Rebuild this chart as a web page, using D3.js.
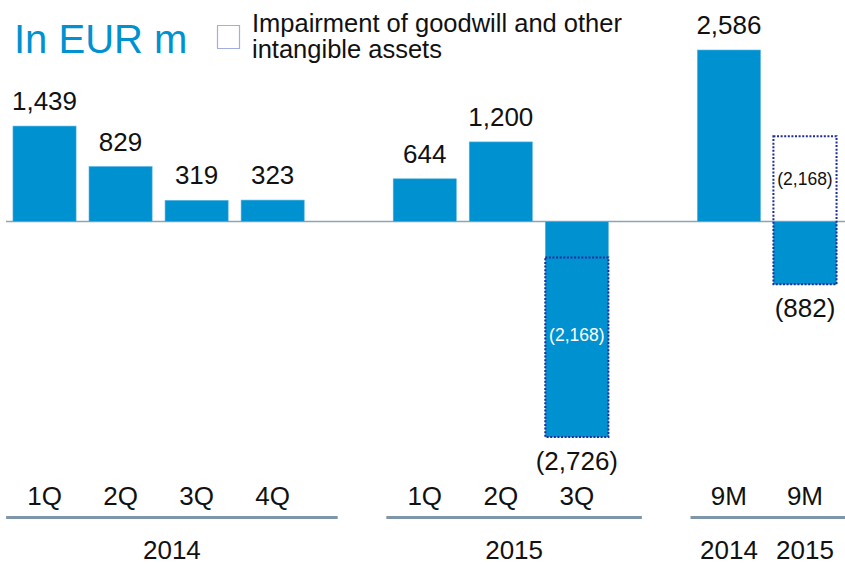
<!DOCTYPE html>
<html><head><meta charset="utf-8">
<script src="https://cdn.jsdelivr.net/npm/d3@7/dist/d3.min.js"></script>
<style>
html,body{margin:0;padding:0;background:#fff;}
svg{display:block;font-family:"Liberation Sans",Arial,Helvetica,sans-serif;}
</style></head>
<body>
<svg id="chart" width="845" height="564"></svg>
<script>
// ---- data ----
const periods   = ["1Q","2Q","3Q","4Q","1Q","2Q","3Q","9M","9M"];
const years     = ["2014","2014","2014","2014","2015","2015","2015","2014","2015"];
const groupIds  = ["Q2014","Q2014","Q2014","Q2014","Q2015","Q2015","Q2015","9M","9M"];
const values    = [1439, 829, 319, 323, 644, 1200, -2726, 2586, -882];
const impairment= [0, 0, 0, 0, 0, 0, -2168, 0, -2168];
const groups    = ["Q2014","Q2015","9M"];
const groupLabels = ["2014","2015",""];
const titleText = "In EUR m";
const legendLines = ["Impairment of goodwill and other","intangible assets"];

// ---- layout ----
const W = 845, H = 564;
const svg = d3.select("#chart");
const barColor = "#0091d0";
const navy = "#1f2c99";

const ids = values.map((d,i)=>groupIds[i]+"-"+periods[i]+"-"+years[i]);
const slots = [...ids.slice(0,4),"_gap1",...ids.slice(4,7),"_gap2",...ids.slice(7)];
const x = d3.scaleBand().domain(slots).range([6.5, 843]).paddingInner(0.17).paddingOuter(0.085);
const bw = x.bandwidth();

const minV = d3.min(values), maxV = d3.max(values);
const restQ3 = values[6]-impairment[6];
const y = d3.scaleLinear().domain([minV, restQ3, 0, maxV]).range([437, 257.5, 221.5, 50]);

const fmt = v => v < 0 ? "(" + d3.format(",")(-v) + ")" : d3.format(",")(v);

const data = values.map((v,i)=>({id:ids[i], v, imp:impairment[i], period:periods[i], year:years[i], group:groupIds[i]}));

// baseline
svg.append("line").attr("x1",6).attr("x2",W).attr("y1",y(0)).attr("y2",y(0))
  .attr("stroke","#8fa3b3").attr("stroke-width",1.5);

// bars
svg.selectAll("rect.bar").data(data).enter().append("rect")
  .attr("class","bar")
  .attr("x",d=>x(d.id)).attr("width",bw)
  .attr("y",d=>Math.min(y(d.v),y(0)))
  .attr("height",d=>Math.abs(y(d.v)-y(0)))
  .attr("fill",barColor).attr("stroke","#5ab4e0").attr("stroke-width",0.6);

// impairment boxes
const impData = data.filter(d=>d.imp!==0);
svg.selectAll("rect.imp").data(impData).enter().append("rect")
  .attr("class","imp")
  .attr("x",d=>x(d.id)).attr("width",bw)
  .attr("y",d=>y(d.v - d.imp))
  .attr("height",d=>y(d.v)-y(d.v - d.imp))
  .attr("fill","none").attr("stroke",navy).attr("stroke-width",2).attr("stroke-dasharray","2 1.6");

svg.selectAll("text.imp").data(impData).enter().append("text")
  .attr("class","imp")
  .attr("x",d=>x(d.id)+bw/2)
  .attr("y",d=>{
    const top = d.v - d.imp;
    const mid = top > 0 ? (y(0)+y(top))/2 : (y(top)+y(d.v))/2 - 12;
    return mid;
  })
  .attr("dy","0.35em")
  .attr("text-anchor","middle").attr("font-size",17.5)
  .attr("fill",d=> (d.v - d.imp) > 0 ? "#111" : "#fff")
  .text(d=>fmt(d.imp));

// value labels
svg.selectAll("text.val").data(data).enter().append("text")
  .attr("class","val")
  .attr("x",d=>x(d.id)+bw/2)
  .attr("y",d=> d.v>=0 ? y(d.v)-16 : y(d.v)+33)
  .attr("text-anchor","middle").attr("font-size",26).attr("fill","#111")
  .text(d=>fmt(d.v));

// category labels
svg.selectAll("text.cat").data(data).enter().append("text")
  .attr("x",d=>x(d.id)+bw/2).attr("y",505)
  .attr("text-anchor","middle").attr("font-size",26).attr("fill","#111")
  .text(d=>d.period);

// group lines and labels
const step = x.step();
groups.forEach((g,gi)=>{
  const members = data.filter(d=>d.group===g);
  const x0 = x(members[0].id) - step*0.09;
  const x1 = Math.min(W, x(members[members.length-1].id) + bw + step*0.44);
  svg.append("line").attr("x1",x0).attr("x2",x1).attr("y1",517.5).attr("y2",517.5)
    .attr("stroke","#7f95a8").attr("stroke-width",3);
  if (groupLabels[gi]) {
    svg.append("text").attr("x",(x0+x1)/2).attr("y",559)
      .attr("text-anchor","middle").attr("font-size",26).attr("fill","#111").text(groupLabels[gi]);
  } else {
    members.forEach(d=>{
      svg.append("text").attr("x",x(d.id)+bw/2).attr("y",559)
        .attr("text-anchor","middle").attr("font-size",26).attr("fill","#111").text(d.year);
    });
  }
});

// title
svg.append("text").attr("x",14).attr("y",53).attr("font-size",40).attr("fill","#0091d0").text(titleText);

// legend
svg.append("rect").attr("x",217.5).attr("y",25.5).attr("width",22).attr("height",23)
  .attr("fill","none").attr("stroke","#4a5cc0").attr("stroke-width",1.2).attr("stroke-dasharray","1 1");
legendLines.forEach((t,i)=>{
  svg.append("text").attr("x",252).attr("y",31.5+i*26).attr("font-size",25.5).attr("fill","#111").text(t);
});
</script>
</body></html>
